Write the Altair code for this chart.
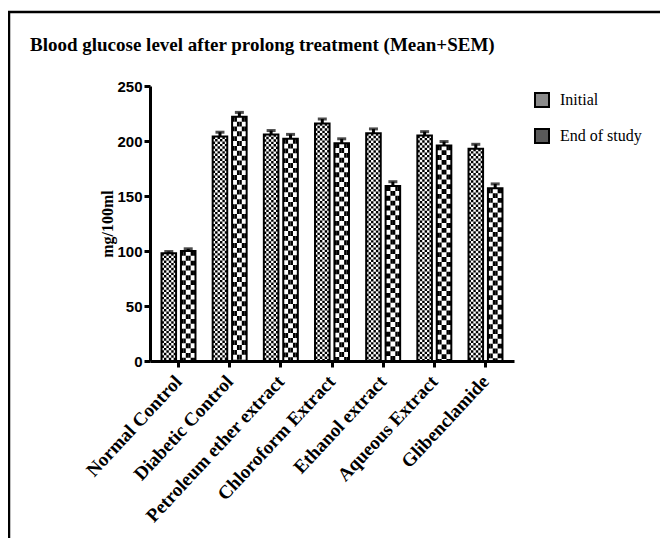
import altair as alt
import pandas as pd

categories = ["Normal Control", "Diabetic Control", "Petroleum ether extract",
              "Chloroform Extract", "Ethanol extract", "Aqueous Extract", "Glibenclamide"]
series = ["Initial", "End of study"]
initial_mean = [98, 204, 206, 216, 207, 205, 193]
initial_sem = [1.5, 4, 3.5, 4, 4, 3.5, 4]
end_mean = [100, 222, 202, 198, 159, 196, 157]
end_sem = [2, 4, 4, 4, 4, 3.5, 4]

rows = []
for i, c in enumerate(categories):
    rows.append({"cat": c, "series": "Initial", "mean": initial_mean[i], "sem": initial_sem[i]})
    rows.append({"cat": c, "series": "End of study", "mean": end_mean[i], "sem": end_sem[i]})
df = pd.DataFrame(rows)
df["top"] = df["mean"] + df["sem"]

# pattern columns: 14 sub-columns across each group (6 initial, 2 gap, 6 end)
prow = []
for r in rows:
    cols = range(0, 6) if r["series"] == "Initial" else range(8, 14)
    for k in cols:
        if r["series"] == "Initial":
            kind = "fine_even" if k % 2 == 0 else "fine_odd"
        else:
            kind = "coarse_even" if ((k - 8) // 2) % 2 == 0 else "coarse_odd"
        prow.append({"cat": r["cat"], "col": k, "mean": r["mean"], "kind": kind})
pdf = pd.DataFrame(prow)

W, H = 364, 275
x_enc = alt.X("cat:N", sort=categories,
              scale=alt.Scale(paddingInner=0.336, paddingOuter=0.225),
              axis=alt.Axis(title=None, labelAngle=-47, labelAlign="right", labelBaseline="middle",
                            labelFont="Liberation Serif", labelFontWeight="bold", labelFontSize=19,
                            labelColor="black", labelPadding=11, labelLimit=400, domainWidth=3,
                            domainColor="black", tickWidth=3, tickSize=6, tickColor="black"))
y_enc = alt.Y("mean:Q", scale=alt.Scale(domain=[0, 250], nice=False),
              axis=alt.Axis(title="mg/100ml", values=[0, 50, 100, 150, 200, 250], grid=False,
                            labelFont="Liberation Sans", labelFontWeight="bold", labelFontSize=15,
                            labelColor="black", domainWidth=3, domainColor="black",
                            tickWidth=3, tickSize=6, tickColor="black", labelPadding=2,
                            titleFont="Liberation Serif", titleFontWeight="bold", titleFontSize=16,
                            titleColor="black", titlePadding=1))
xo_bar = alt.XOffset("series:N", sort=series, scale=alt.Scale(paddingInner=0.25, paddingOuter=0))

base = alt.Chart(df)
legend_bars = base.mark_bar().encode(
    x=x_enc, y=y_enc, xOffset=xo_bar,
    fill=alt.Fill("series:N", sort=series,
                  scale=alt.Scale(domain=series, range=["#8a8a8a", "#5a5a5a"]),
                  legend=alt.Legend(title=None, orient="none", legendX=384, legendY=6,
                                    symbolType="square", symbolSize=196,
                                    symbolStrokeColor="black", symbolStrokeWidth=2,
                                    labelFont="Liberation Serif", labelFontSize=16,
                                    labelColor="black", labelOffset=10, rowPadding=14)))
white_bars = base.mark_bar(fill="white").encode(x=x_enc, y=y_enc, xOffset=xo_bar)

xo_col = alt.XOffset("col:O", scale=alt.Scale(domain=list(range(14)), paddingInner=0, paddingOuter=0))
fw = 34 / 14
pats = []
for kind, dash, off, sw in [("fine_even", [fw, fw], 0, fw), ("fine_odd", [fw, fw], fw, fw),
                            ("coarse_even", [2 * fw, 2 * fw], 0, fw), ("coarse_odd", [2 * fw, 2 * fw], 2 * fw, fw)]:
    pats.append(
        alt.Chart(pdf).transform_filter(alt.datum.kind == kind)
        .mark_rule(color="black", strokeWidth=sw, strokeDash=dash, strokeDashOffset=off, strokeCap="butt")
        .encode(x=x_enc, xOffset=xo_col, y=alt.Y("mean:Q"), y2=alt.datum(0))
    )

outline = base.mark_bar(fillOpacity=0, stroke="black", strokeWidth=2).encode(x=x_enc, y=y_enc, xOffset=xo_bar)
stem = base.mark_rule(color="black", strokeWidth=3).encode(x=x_enc, xOffset=xo_bar, y="mean:Q", y2="top:Q")
cap = base.mark_tick(color="black", thickness=3, size=9).encode(x=x_enc, xOffset=xo_bar, y="top:Q")

frame_df = pd.DataFrame({"a": [0]})
top_line = alt.Chart(frame_df).mark_rule(color="black", strokeWidth=2.5).encode(
    x=alt.value(-142), x2=alt.value(W + 146), y=alt.value(-74))
left_line = alt.Chart(frame_df).mark_rule(color="black", strokeWidth=2.5).encode(
    x=alt.value(-141), y=alt.value(-74), y2=alt.value(H + 177))

chart = alt.layer(top_line, left_line, legend_bars, white_bars, *pats, outline, stem, cap).resolve_scale(
    xOffset="independent"
).properties(
    width=W, height=H,
    title=alt.TitleParams("Blood glucose level after prolong treatment (Mean+SEM)", anchor="start",
                          frame="group", font="Liberation Serif", fontWeight="bold", fontSize=19,
                          color="black", dx=-120, dy=44, offset=0),
    autosize=alt.AutoSizeParams(type="none"),
    padding={"left": 142, "top": 78, "right": 146, "bottom": 177},
).configure_view(stroke=None)

chart.save("out.html", embed_options={"renderer": "svg", "actions": False})
